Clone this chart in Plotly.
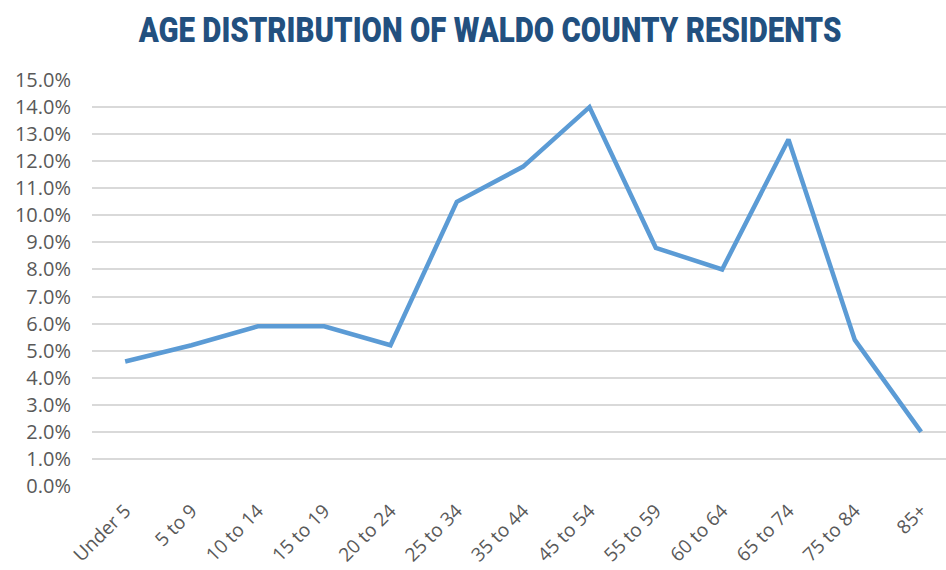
import plotly.graph_objects as go

age_groups = ["Under 5", "5 to 9", "10 to 14", "15 to 19", "20 to 24", "25 to 34",
              "35 to 44", "45 to 54", "55 to 59", "60 to 64", "65 to 74", "75 to 84", "85+"]
share_pct = [4.6, 5.2, 5.9, 5.9, 5.2, 10.5, 11.8, 14.0, 8.8, 8.0, 12.8, 5.4, 2.0]
y_ticks = [i for i in range(0, 16)]
y_tick_text = [f"{v:.1f}%" for v in y_ticks]

fig = go.Figure()
fig.add_trace(go.Scatter(
    x=list(range(len(age_groups))),
    y=share_pct,
    mode="lines",
    line=dict(color="#5b9bd5", width=4.5),
    hoverinfo="skip",
))

fig.update_layout(
    width=946, height=570,
    margin=dict(l=92, r=0, t=80, b=84),
    paper_bgcolor="white", plot_bgcolor="white",
    showlegend=False,
    title=dict(
        text="AGE DISTRIBUTION OF WALDO COUNTY RESIDENTS",
        x=0.518, xanchor="center", y=0.9475, yanchor="middle",
        font=dict(family="Roboto, sans-serif", size=35, color="#22507f", weight=900),
    ),
    xaxis=dict(
        range=[-0.5, 12.375],
        tickmode="array", tickvals=list(range(len(age_groups))), ticktext=age_groups,
        tickangle=-45, showgrid=False, zeroline=False, showline=False,
        tickfont=dict(family="Open Sans, sans-serif", size=19, color="#595959"),
        ticklabelstandoff=9, automargin=False,
        fixedrange=True,
    ),
    yaxis=dict(
        range=[0, 15], tickmode="array", tickvals=y_ticks, ticktext=y_tick_text,
        showgrid=True, gridcolor="#d9d9d9", gridwidth=1.5, zeroline=False,
        showline=False, ticks="", ticklen=0,
        tickfont=dict(family="Open Sans, sans-serif", size=20, color="#595959"),
        ticklabelstandoff=20, automargin=False,
        fixedrange=True,
    ),
)

# Narrow the heading horizontally (condensed look) around its own centre.
condense_title = """
var gd = document.getElementById('{plot_id}');
function squeeze() {
  var t = gd.querySelector('.gtitle');
  if (!t) return;
  t.removeAttribute('transform');
  var w = t.getComputedTextLength();
  var cx = parseFloat(t.getAttribute('x'));
  var k = 703 / w;
  if (k < 1) {
    t.setAttribute('transform',
      'translate(' + cx + ',0) scale(' + k + ',1) translate(' + (-cx) + ',0)');
  }
}
squeeze();
gd.on && gd.on('plotly_afterplot', squeeze);
"""

fig.write_html("out.html", config={"displayModeBar": False}, post_script=condense_title)
